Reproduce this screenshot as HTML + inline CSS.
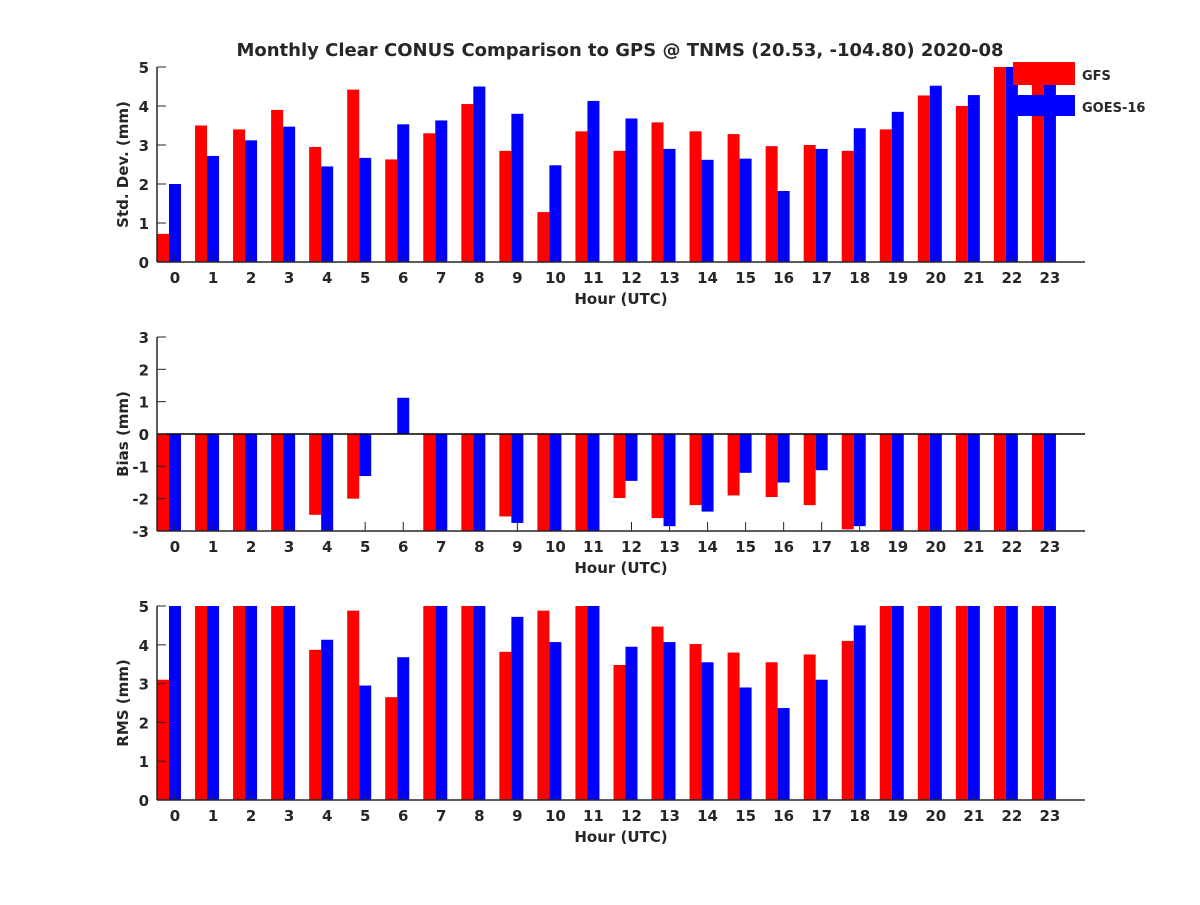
<!DOCTYPE html>
<html><head><meta charset="utf-8"><style>body{margin:0;background:#fff}svg text{font-family:"DejaVu Sans","Liberation Sans",sans-serif;font-weight:bold;fill:#262626}</style></head>
<body>
<svg id="chart" width="1200" height="900" xmlns="http://www.w3.org/2000/svg">
<rect width="1200" height="900" fill="#fff"/>
<text x="620" y="56" text-anchor="middle" font-size="18">Monthly Clear CONUS Comparison to GPS @ TNMS (20.53, -104.80) 2020-08</text>
</svg>
<script>
const hours=[0,1,2,3,4,5,6,7,8,9,10,11,12,13,14,15,16,17,18,19,20,21,22,23];
const stdGFS=[0.72,3.5,3.4,3.9,2.95,4.42,2.63,3.3,4.05,2.85,1.28,3.35,2.85,3.58,3.35,3.28,2.97,3.0,2.85,3.4,4.27,4.0,5,4.8];
const stdGOES=[2.0,2.72,3.12,3.47,2.45,2.67,3.53,3.63,4.5,3.8,2.48,4.13,3.68,2.9,2.62,2.65,1.82,2.9,3.43,3.85,4.52,4.28,5,4.7];
const biasGFS=[-3,-3,-3,-3,-2.5,-2.0,0.02,-3,-3,-2.55,-3,-3,-1.98,-2.6,-2.2,-1.9,-1.95,-2.2,-2.95,-3,-3,-3,-3,-3];
const biasGOES=[-3,-3,-3,-3,-3,-1.3,1.12,-3,-3,-2.75,-3,-3,-1.45,-2.85,-2.4,-1.2,-1.5,-1.12,-2.85,-3,-3,-3,-3,-3];
const rmsGFS=[3.1,5,5,5,3.87,4.88,2.65,5,5,3.82,4.88,5,3.48,4.47,4.02,3.8,3.55,3.75,4.1,5,5,5,5,5];
const rmsGOES=[5,5,5,5,4.13,2.95,3.68,5,5,4.72,4.07,5,3.95,4.07,3.55,2.9,2.37,3.1,4.5,5,5,5,5,5];
const yTicksStd=[0,1,2,3,4,5];
const yTicksBias=[-3,-2,-1,0,1,2,3];
const NS='http://www.w3.org/2000/svg';
const svg=document.getElementById('chart');
function el(t,a,p){const e=document.createElementNS(NS,t);for(const k in a)e.setAttribute(k,a[k]);(p||svg).appendChild(e);return e;}
const X0=157,X1=1085;
const xs=h=>175+h*38.04;
function panel(name,top,bot,ymin,ymax,ticks,ylabel,red,blue){
  const g=el('g',{});
  
  
  const ys=v=>bot-(v-ymin)/(ymax-ymin)*(bot-top);
  const base=ymin<0?ys(0):bot;
  const bw=12;
  hours.forEach((h,i)=>{
    const c0=xs(h)-6;
    [[red[i],'#ff0000',-bw,'gfs'],[blue[i],'#0000ff',0,'goes']].forEach(([v,c,off,s])=>{
      const y=ys(Math.max(ymin,Math.min(ymax,v)));
      const r=el('rect',{x:c0+off,y:Math.min(y,base),width:bw,height:Math.abs(base-y),fill:c},g);
      
      
    });
  });
  if(ymin<0){el('line',{x1:X0,x2:X1,y1:base,y2:base,stroke:'#000','stroke-width':1.5},g);}
  hours.forEach(h=>{const x=xs(h);
    el('line',{x1:x,x2:x,y1:bot,y2:bot-9,stroke:'#262626'},g);
    const tx=el('text',{x:x,y:bot+21,'text-anchor':'middle','font-size':15},g);tx.textContent=h;
    
    
  });
  el('line',{x1:X0,x2:X0,y1:top,y2:bot,stroke:'#262626','stroke-width':1.5},g);
  el('line',{x1:X0,x2:X1,y1:bot,y2:bot,stroke:'#262626','stroke-width':1.5},g);
  ticks.forEach(t=>{const y=ys(t);
    el('line',{x1:X0,x2:X0+9,y1:y,y2:y,stroke:'#262626'},g);
    const tx=el('text',{x:X0-8,y:y+6,'text-anchor':'end','font-size':15},g);tx.textContent=t;
    
    
  });
  const xl=el('text',{x:621,y:bot+42,'text-anchor':'middle','font-size':15},g);xl.textContent='Hour (UTC)';
  
  
  const cy=(top+bot)/2;
  const yl=el('text',{x:0,y:0,'text-anchor':'middle','font-size':15,transform:`translate(128,${cy}) rotate(-90)`},g);yl.textContent=ylabel;
  
  
}
panel('std-dev',67,262,0,5,yTicksStd,'Std. Dev. (mm)',stdGFS,stdGOES);
panel('bias',337,531,-3,3,yTicksBias,'Bias (mm)',biasGFS,biasGOES);
panel('rms',606,800,0,5,yTicksStd,'RMS (mm)',rmsGFS,rmsGOES);
const lg=el('g',{});


el('rect',{x:1013,y:62,width:62,height:23,fill:'#ff0000'},lg);
el('rect',{x:1013,y:95,width:62,height:21,fill:'#0000ff'},lg);
const t1=el('text',{x:1082,y:80,'font-size':13},lg);t1.textContent='GFS';


const t2=el('text',{x:1082,y:112,'font-size':13},lg);t2.textContent='GOES-16';


</script>
</body></html>
